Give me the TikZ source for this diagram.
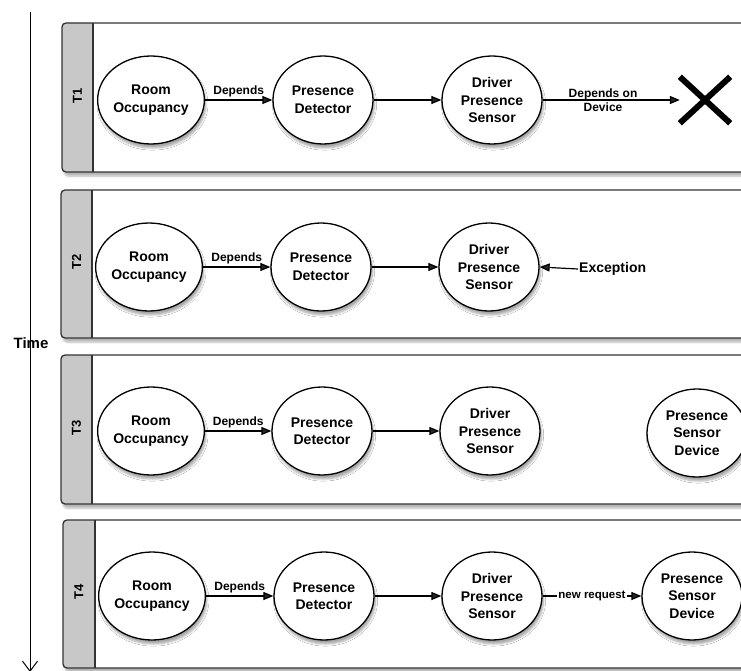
\documentclass[tikz,border=0pt]{standalone}
\usepackage{fontspec}
\setmainfont{Liberation Sans}
\usetikzlibrary{shapes.geometric,arrows.meta,shadows.blur}
\definecolor{bandgray}{HTML}{C8C8C8}
\definecolor{laneline}{HTML}{333333}
\newcommand\mylane[5]{% left, top, bandright, bottom, label
  \fill[white, rounded corners=4pt, blur shadow={shadow xshift=2pt, shadow yshift=-4pt, shadow opacity=30, shadow blur steps=6}] (#1,#2) rectangle (780,#4);
  \fill[bandgray, rounded corners=4pt] (#1,#2) rectangle (#3,#4);
  \fill[bandgray] ({#3-8},#2) rectangle (#3,#4);
  \draw[laneline, line width=1.3pt, rounded corners=4pt] (#1,#2) rectangle (780,#4);
  \draw[laneline, line width=1.3pt] (#3,#2) -- (#3,#4);
  \node[rotate=90, font=\bfseries\fontsize{13}{14}\selectfont] at ({(#1+#3)/2},{(#2+#4)/2-2}) {#5};
}
\begin{document}
\begin{tikzpicture}[x=1pt,y=-1pt,
  comp/.style={ellipse, draw=black, line width=1.3pt, fill=white,
    minimum width=100pt, minimum height=88pt, inner sep=0pt, align=center,
    font=\bfseries\fontsize{14}{17.5}\selectfont,
    blur shadow={shadow xshift=1.5pt, shadow yshift=-4pt, shadow opacity=35, shadow blur steps=6}},
  flow/.style={line width=1.2pt, -{Triangle[length=10pt,width=8pt]}},
  lbl/.style={font=\bfseries\fontsize{12}{12}\selectfont, inner sep=1pt},
  txt/.style={font=\bfseries\fontsize{14}{16}\selectfont, inner sep=1pt}]
\clip (0,0) rectangle (741,671);

% time axis
\coordinate (tstart) at (30,12);
\coordinate (tend) at (30,672);
\draw[line width=1pt, -{Straight Barb[length=10pt,width=15pt,line width=1pt]}] (tstart) -- (tend);
\node[font=\bfseries\fontsize{15}{16}\selectfont, inner sep=0pt] (time) at (31,343) {Time};

% lanes
\mylane{62}{23}{93}{172}{T1}
\mylane{61}{190}{92}{338}{T2}
\mylane{61}{355}{92}{504}{T3}
\mylane{63}{520}{95}{668}{T4}

% T1
\node[comp] (ro1) at (151,100) {Room\\Occupancy};
\node[comp] (pd1) at (323,100) {Presence\\Detector};
\node[comp] (ds1) at (492,100) {Driver\\Presence\\Sensor};
\node[minimum width=50pt, minimum height=46pt, inner sep=0pt] (x1) at (705,100) {};
\draw[line width=6pt] (x1.north west) -- (x1.south east);
\draw[line width=6pt] (x1.south west) -- (x1.north east);
\draw[flow] (ro1) -- node[lbl, above=1pt] {Depends} (pd1);
\draw[flow] (pd1) -- (ds1);
\draw[flow] (ds1) -- node[lbl, align=center, pos=0.44, font=\bfseries\fontsize{12}{13.5}\selectfont] {Depends on\\Device} (x1.west);

% T2
\node[comp] (ro2) at (149,267) {Room\\Occupancy};
\node[comp] (pd2) at (321,267) {Presence\\Detector};
\node[comp] (ds2) at (489,267) {Driver\\Presence\\Sensor};
\node[txt, anchor=west] (ex2) at (578,269) {Exception};
\draw[flow] (ro2) -- node[lbl, above=1pt] {Depends} (pd2);
\draw[flow] (pd2) -- (ds2);
\draw[flow] (ex2.west) -- (ds2.east);

% T3
\node[comp] (ro3) at (151,431) {Room\\Occupancy};
\node[comp] (pd3) at (322,431) {Presence\\Detector};
\node[comp] (ds3) at (490,431) {Driver\\Presence\\Sensor};
\node[comp] (sd3) at (697,433) {Presence\\Sensor\\Device};
\draw[flow] (ro3) -- node[lbl, above=1pt] {Depends} (pd3);
\draw[flow] (pd3) -- (ds3);

% T4
\node[comp] (ro4) at (152,596) {Room\\Occupancy};
\node[comp] (pd4) at (324,596) {Presence\\Detector};
\node[comp] (ds4) at (492,596) {Driver\\Presence\\Sensor};
\node[comp] (sd4) at (692,596) {Presence\\Sensor\\Device};
\draw[flow] (ro4) -- node[lbl, above=1pt] {Depends} (pd4);
\draw[flow] (pd4) -- (ds4);
\draw[flow] (ds4) -- node[lbl, fill=white, font=\bfseries\fontsize{11.5}{12}\selectfont, inner sep=1pt] {new request} (sd4);
\end{tikzpicture}
\end{document}
